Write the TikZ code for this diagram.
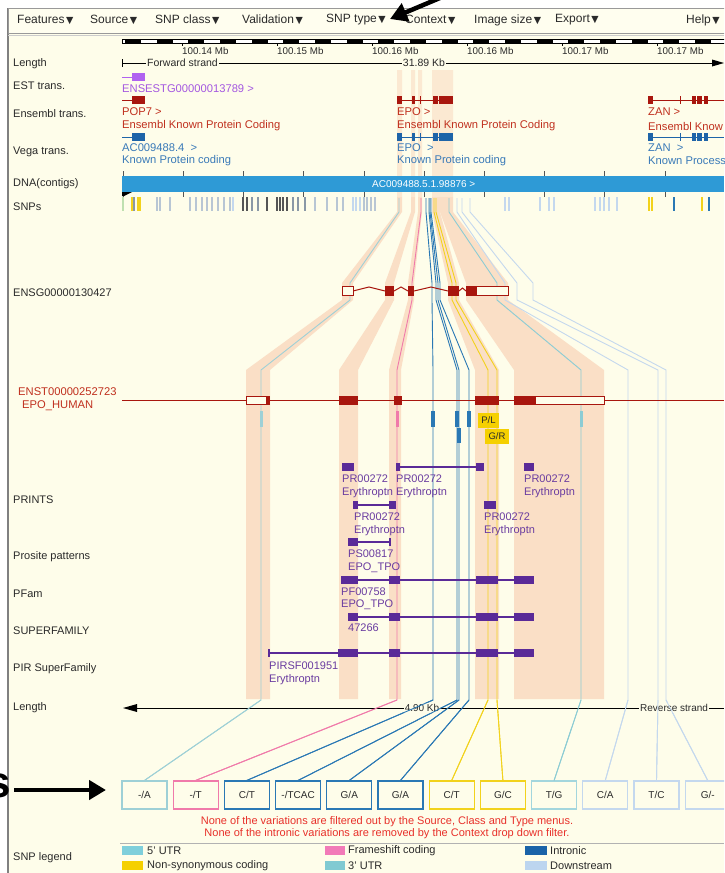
\documentclass[tikz,border=0pt]{standalone}
\usepackage{fontspec}
\setmainfont{Liberation Sans}
\newfontfamily\dvfont{DejaVu Sans}
\usetikzlibrary{arrows.meta}
\definecolor{bgc}{HTML}{FEFDEA}
\definecolor{menubg}{HTML}{FFFEEF}
\definecolor{bandc}{HTML}{FADFC6}
\definecolor{ensred}{HTML}{A8160E}
\definecolor{enstxt}{HTML}{C0301E}
\definecolor{estc}{HTML}{B062F0}
\definecolor{esttxt}{HTML}{A458E0}
\definecolor{vegac}{HTML}{1E64A8}
\definecolor{vegatxt}{HTML}{3A7AB8}
\definecolor{dnac}{HTML}{2E9AD6}
\definecolor{protc}{HTML}{5A2A98}
\definecolor{prottxt}{HTML}{6A3CA0}
\definecolor{labc}{HTML}{2A2A2A}
\definecolor{utrfive}{HTML}{9ED0D6}
\definecolor{fshift}{HTML}{F07AAA}
\definecolor{intr}{HTML}{2A78B4}
\definecolor{nsyn}{HTML}{F2D21C}
\definecolor{utrthree}{HTML}{8CCCD4}
\definecolor{dstream}{HTML}{C4D8EE}
\definecolor{notec}{HTML}{E8302A}
\definecolor{tgray}{HTML}{B8C6D4}
\definecolor{tdark}{HTML}{555555}
\definecolor{tmid}{HTML}{8A98A6}
\definecolor{tgreen}{HTML}{BFE0B0}
\definecolor{legfive}{HTML}{7FCFDB}
\definecolor{legfs}{HTML}{F27AB8}
\definecolor{legin}{HTML}{1A63A8}
\definecolor{legns}{HTML}{F5D000}
\definecolor{legthree}{HTML}{80CAD2}
\definecolor{legds}{HTML}{BCD5EF}
\newcommand{\mtri}{{\dvfont\fontsize{9.5}{9.5}\selectfont\,▼}}
\tikzset{
  lab/.style={anchor=west, inner sep=0pt, text=labc, font=\fontsize{11}{12}\selectfont},
  menu/.style={anchor=west, inner sep=0pt, text=labc, font=\fontsize{12}{13}\selectfont},
  trk/.style={anchor=west, inner sep=0pt, font=\fontsize{11.2}{12}\selectfont},
  prl/.style={anchor=west, inner sep=0pt, text=prottxt, font=\fontsize{11}{12}\selectfont},
  sclab/.style={anchor=west, inner sep=0pt, text=labc, font=\fontsize{9.8}{10}\selectfont},
  snpbox/.style={minimum width=45pt, minimum height=28pt, inner sep=0pt, fill=bgc, line width=1.2pt, text=labc, font=\fontsize{10}{11}\selectfont},
  snpl/.style={line width=0.9pt},
  pline/.style={draw=protc, line width=1.2pt},
  bigarrow/.style={line width=4.5pt, -{Triangle[length=17pt,width=19pt]}},
}
\begin{document}
\begin{tikzpicture}[x=1pt,y=-1pt]
\useasboundingbox (0,0) rectangle (724,873);
\clip (0,0) rectangle (724,873);
\fill[white] (0,0) rectangle (724,873);
\fill[bgc] (8,8) rectangle (724,873);
\draw[gray, line width=1.5pt] (8,8) -- (8,873);
% menu bar
\draw[gray!80, fill=menubg] (8,8) rectangle (740,33);
\draw[gray!40] (8,35) -- (724,35);
\node[menu] (m1) at (17,20) {Features\mtri};
\node[menu] (m2) at (90,20) {Source\mtri};
\node[menu] (m3) at (155,20) {SNP class\mtri};
\node[menu] (m4) at (242,20) {Validation\mtri};
\node[menu] (m5) at (326,20) {SNP type\mtri};
\node[menu] (m6) at (405,20) {Context\mtri};
\node[menu] (m7) at (474,20) {Image size\mtri};
\node[menu] (m8) at (555,20) {Export\mtri};
\node[menu] (m9) at (686,20) {Help\mtri};
% bands
\foreach \ta/\tb/\ea/\eb/\ra/\rb in {397/402/342/353/246/270, 411/415/385/394/339/358, 418/422/408/414/389/401, 432/440/448/459/475/499, 440/453/466/508/514/604}{
  \fill[bandc] (\ta,70) -- (\ta,212) -- (\ea,283) -- (\ea,300) -- (\ra,370) -- (\ra,699) -- (\rb,699) -- (\rb,370) -- (\eb,300) -- (\eb,283) -- (\tb,212) -- (\tb,70) -- cycle;
}
\fill[bgc, opacity=0.35] (100,68) rectangle (724,197);
% scale bar
\draw[black, fill=white, line width=0.8pt] (122,39.5) rectangle (730,43.5);
\foreach \k in {0,...,19}{ \fill[black] ({125+31.67*\k},39.5) rectangle ({141+31.67*\k},43.5); }
\foreach \x/\t in {182/100.14 Mb, 277/100.15 Mb, 372/100.16 Mb, 467/100.16 Mb, 562/100.17 Mb, 657/100.17 Mb}{
  \draw[black] (\x,43.5) -- (\x,46);
  \node[sclab] (s\x) at (\x,51) {\t};
}
% row labels
\node[lab] (l1) at (13,64) {Length};
\node[lab] (l2) at (13,86) {EST trans.};
\node[lab] (l3) at (13,114) {Ensembl trans.};
\node[lab] (l4) at (13,152) {Vega trans.};
\node[lab] (l5) at (13,184) {DNA(contigs)};
\node[lab] (l6) at (13,207) {SNPs};
\node[lab] (l7) at (13,293) {ENSG00000130427};
\node[lab] (l8) at (13,500) {PRINTS};
\node[lab] (l9) at (13,557) {Prosite patterns};
\node[lab] (l10) at (13,594) {PFam};
\node[lab] (l11) at (13,631) {SUPERFAMILY};
\node[lab] (l12) at (13,669) {PIR SuperFamily};
\node[lab] (l13) at (13,708) {Length};
\node[lab] (l14) at (13,858) {SNP legend};
% length top
\draw[black] (122,59) -- (122,67);
\draw[black] (122,63) -- (716,63);
\fill[black] (724,63) -- (712,59.5) -- (712,66.5) -- cycle;
\node[sclab, fill=bgc, inner sep=1pt, font=\fontsize{10.5}{11}\selectfont] (fw) at (146,63) {Forward strand};
\node[sclab, fill=bgc, inner sep=1pt, anchor=center, font=\fontsize{10.5}{11}\selectfont] (kb1) at (424,63) {31.89 Kb};
% EST
\draw[estc, line width=1pt] (122,77) -- (132,77);
\fill[estc] (132,73) rectangle (145,81);
\node[trk, text=esttxt] (est) at (122,89) {ENSESTG00000013789 >};
% Ensembl
\draw[ensred, line width=1pt] (122,100) -- (132,100);
\fill[ensred] (132,96) rectangle (145,104);
\draw[ensred, line width=1pt] (397,100) -- (453,100);
\foreach \a/\b in {397/402, 412/414.5, 419.5/421, 433/438, 439/453}{ \fill[ensred] (\a,96) rectangle (\b,104); }
\draw[ensred, line width=1pt] (648,100) -- (724,100);
\foreach \a/\b in {648/653, 679.5/681, 692/696, 697/702, 704/708}{ \fill[ensred] (\a,96) rectangle (\b,104); }
\node[trk, text=enstxt] (e1a) at (122,112) {POP7 >};
\node[trk, text=enstxt] (e1b) at (122,126) {Ensembl Known Protein Coding};
\node[trk, text=enstxt] (e2a) at (397,112) {EPO >};
\node[trk, text=enstxt] (e2b) at (397,126) {Ensembl Known Protein Coding};
\node[trk, text=enstxt] (e3a) at (648,112) {ZAN >};
\node[trk, text=enstxt] (e3b) at (648,126) {Ensembl Know};
% Vega
\draw[vegac, line width=1pt] (122,137) -- (132,137);
\fill[vegac] (132,133) rectangle (145,141);
\draw[vegac, line width=1pt] (397,137) -- (453,137);
\foreach \a/\b in {397/402, 412/414.5, 419.5/421, 433/438, 439/453}{ \fill[vegac] (\a,133) rectangle (\b,141); }
\draw[vegac, line width=1pt] (648,137) -- (724,137);
\foreach \a/\b in {648/653, 679.5/681, 692/696, 697/702, 704/708}{ \fill[vegac] (\a,133) rectangle (\b,141); }
\node[trk, text=vegatxt] (v1a) at (122,148) {AC009488.4~~>};
\node[trk, text=vegatxt] (v1b) at (122,161) {Known Protein coding};
\node[trk, text=vegatxt] (v2a) at (397,148) {EPO~~>};
\node[trk, text=vegatxt] (v2b) at (397,161) {Known Protein coding};
\node[trk, text=vegatxt] (v3a) at (648,148) {ZAN~~>};
\node[trk, text=vegatxt] (v3b) at (648,161) {Known Processe};
% DNA contig
\fill[dnac] (122,176) rectangle (724,192);
\foreach \k in {0,...,10}{
  \draw[tdark] ({123+60.2*\k},171) -- ({123+60.2*\k},176);
  \draw[tdark] ({123+60.2*\k},192) -- ({123+60.2*\k},197);
}
\fill[black] (122,192) -- (132,192) -- (124,196) -- (122,196) -- cycle;
\node[sclab, text=white, font=\fontsize{10}{11}\selectfont] (ctg) at (372,184) {AC009488.5.1.98876 >};
% SNP ticks
\foreach \x/\c in {123/tgreen, 132/nsyn, 134/tmid, 138/nsyn, 140/nsyn, 157/tgray, 160/tgray, 170/tgray, 190/tgray, 196/tgray, 202/tgray, 207/tgray, 212/tgray, 218/tgray, 224/tgray, 230/tgray, 233/dstream, 243/tdark, 247/tdark, 252/tmid, 258/tmid, 267/tdark, 277/tdark, 280/tdark, 283/tdark, 287/tdark, 293/tmid, 298/tmid, 305/tmid, 315/tgray, 327/tgray, 337/tgray, 343/tgray, 353/dstream, 356/dstream, 360/dstream, 364/tgray, 367/tgray, 371/tgray, 375/tgray, 505/dstream, 509/dstream, 540/dstream, 549/dstream, 554/dstream, 595/dstream, 600/dstream, 604/dstream, 609/dstream, 617/dstream, 649/nsyn, 652/nsyn, 674/intr, 702/nsyn, 709/intr}{
  \draw[\c, line width=1.2pt] (\x,197) -- (\x,211);
}
% SNP boxes
\node[snpbox, draw=utrfive] (b1) at (144.5,795) {-/A};
\node[snpbox, draw=fshift] (b2) at (195.7,795) {-/T};
\node[snpbox, draw=intr] (b3) at (246.9,795) {C/T};
\node[snpbox, draw=intr] (b4) at (298.1,795) {-/TCAC};
\node[snpbox, draw=intr] (b5) at (349.3,795) {G/A};
\node[snpbox, draw=intr] (b6) at (400.5,795) {G/A};
\node[snpbox, draw=nsyn] (b7) at (451.7,795) {C/T};
\node[snpbox, draw=nsyn] (b8) at (502.9,795) {G/C};
\node[snpbox, draw=utrthree!80] (b9) at (554.1,795) {T/G};
\node[snpbox, draw=dstream] (b10) at (605.3,795) {C/A};
\node[snpbox, draw=dstream] (b11) at (656.5,795) {T/C};
\node[snpbox, draw=dstream] (b12) at (707.7,795) {G/-};
% SNP lines
\foreach \t/\e/\r/\c/\b in {399/350/261/utrfive/b1, 421/412/397/fshift/b2, 426/432/433/intr/b3, 429/436/457/intr/b4, 430/438/459/intr/b5, 431/440/469/intr/b6, 434/452/488/nsyn/b7, 436/456/497/nsyn/b8, 449/497/581/utrthree/b9, 457/505/628/dstream/b10, 462/517/658/dstream/b11, 470/533/666/dstream/b12}{
  \draw[\c, snpl] (\t,198) -- (\t,212) -- (\e,283) -- (\e,300) -- (\r,370) -- (\r,700) -- (\b.north);
}
% ENSG gene
\draw[ensred, line width=1pt] (353,291) -- (369,287) -- (385,291) (394,291) -- (401,287) -- (408,291) (414,291) -- (431,287) -- (448,291) (459,291) -- (462.5,288) -- (466,291);
\draw[ensred, fill=bgc, line width=1pt] (342,286.5) rectangle (353,295.5);
\fill[ensred] (385,286) rectangle (394,296);
\fill[ensred] (408,286) rectangle (414,296);
\fill[ensred] (448,286) rectangle (459,296);
\draw[ensred, fill=bgc, line width=1pt] (476,286.5) rectangle (508,295.5);
\fill[ensred] (466,286) rectangle (476,296);
% transcript
\node[trk, text=enstxt] (tr1) at (18,392) {ENST00000252723};
\node[trk, text=enstxt] (tr2) at (22,406) {EPO\_HUMAN};
\draw[ensred, line width=1pt] (122,400) -- (724,400);
\draw[ensred, fill=bgc, line width=1pt] (246,396) rectangle (269,404.5);
\fill[ensred] (266,396) rectangle (270,405);
\fill[ensred] (339,396) rectangle (358,405);
\fill[ensred] (394,396) rectangle (402,405);
\fill[ensred] (475,396) rectangle (499,405);
\draw[ensred, fill=bgc, line width=1pt] (535,396) rectangle (604,404.5);
\fill[ensred] (514,396) rectangle (535,405);
% SNP markers
\fill[utrfive] (259.5,411) rectangle (262.5,427);
\fill[fshift] (395.5,411) rectangle (398.5,427);
\fill[intr] (431,411) rectangle (435,427);
\fill[intr] (455,411) rectangle (459,427);
\fill[intr] (467,411) rectangle (471,427);
\fill[intr] (457,428) rectangle (461,443);
\fill[utrthree] (579.5,411) rectangle (582.5,427);
\node[fill=legns, minimum width=21pt, minimum height=15pt, inner sep=0pt, text=labc, font=\fontsize{9.5}{10}\selectfont] (pl) at (488.5,420.5) {P/L};
\node[fill=legns, minimum width=24pt, minimum height=15pt, inner sep=0pt, text=labc, font=\fontsize{9.5}{10}\selectfont] (gr) at (497,436) {G/R};
% PRINTS
\fill[protc] (342,463) rectangle (354,471);
\fill[protc] (396,463) rectangle (400,471);
\draw[pline] (400,467) -- (476,467);
\fill[protc] (476,463) rectangle (484,471);
\fill[protc] (524,463) rectangle (534,471);
\node[prl] (p1a) at (342,479) {PR00272};
\node[prl] (p1b) at (342,493) {Erythroptn};
\node[prl] (p2a) at (396,479) {PR00272};
\node[prl] (p2b) at (396,493) {Erythroptn};
\node[prl] (p3a) at (524,479) {PR00272};
\node[prl] (p3b) at (524,493) {Erythroptn};
\fill[protc] (353,501) rectangle (358,509);
\draw[pline] (358,505) -- (389,505);
\fill[protc] (389,501) rectangle (396,509);
\node[prl] (p4a) at (354,517) {PR00272};
\node[prl] (p4b) at (354,531) {Erythroptn};
\fill[protc] (484,501) rectangle (496,509);
\node[prl] (p5a) at (484,517) {PR00272};
\node[prl] (p5b) at (484,531) {Erythroptn};
% Prosite
\fill[protc] (348,538) rectangle (358,546);
\draw[pline] (358,542) -- (390,542);
\draw[pline] (390,538) -- (390,546);
\node[prl] (ps1) at (348,554) {PS00817};
\node[prl] (ps2) at (348,568) {EPO\_TPO};
% PFam
\draw[pline] (358,580) -- (514,580);
\foreach \a/\b in {341/358, 389/400, 476/498, 514/534}{ \fill[protc] (\a,576) rectangle (\b,584); }
\node[prl] (pf1) at (341,592) {PF00758};
\node[prl] (pf2) at (341,605) {EPO\_TPO};
% SUPERFAMILY
\draw[pline] (358,617) -- (514,617);
\foreach \a/\b in {348/358, 389/400, 476/498, 514/534}{ \fill[protc] (\a,613) rectangle (\b,621); }
\node[prl] (sf1) at (348,628) {47266};
% PIR
\draw[pline] (269,653) -- (514,653);
\draw[pline] (269,649) -- (269,657);
\foreach \a/\b in {338/358, 389/400, 476/498, 514/534}{ \fill[protc] (\a,649) rectangle (\b,657); }
\node[prl] (pir1) at (269,666) {PIRSF001951};
\node[prl] (pir2) at (269,680) {Erythroptn};
% Length bottom
\draw[black] (130,708) -- (724,708);
\fill[black] (123,708) -- (137,704) -- (137,712) -- cycle;
\node[sclab, fill=bgc, inner sep=1pt, anchor=center, font=\fontsize{10}{11}\selectfont] (kb2) at (422,708) {4.90 Kb};
\node[sclab, fill=bgc, inner sep=1pt, font=\fontsize{10}{11}\selectfont] (rev) at (639,708) {Reverse strand};
% redraw SNP lines over bottom length text
\foreach \r/\c/\b in {261/utrfive/b1, 397/fshift/b2, 433/intr/b3, 457/intr/b4, 459/intr/b5, 469/intr/b6, 488/nsyn/b7, 497/nsyn/b8, 581/utrthree/b9, 628/dstream/b10, 658/dstream/b11, 666/dstream/b12}{
  \draw[\c, snpl] (\r,700) -- (\b.north);
}
% notes
\node[text=notec, inner sep=0pt, font=\fontsize{11}{12}\selectfont] (n1) at (387,822) {None of the variations are filtered out by the Source, Class and Type menus.};
\node[text=notec, inner sep=0pt, font=\fontsize{11}{12}\selectfont] (n2) at (387,834) {None of the intronic variations are removed by the Context drop down filter.};
% legend
\draw[gray!60] (120,843) -- (724,843);
\fill[legfive] (122,846) rectangle (143,855);
\node[lab] (lg1) at (147,850.5) {5' UTR};
\fill[legfs] (325,846) rectangle (345,855);
\node[lab] (lg2) at (348,850.5) {Frameshift coding};
\fill[legin] (525,846) rectangle (547,855);
\node[lab] (lg3) at (550,850.5) {Intronic};
\fill[legns] (122,861) rectangle (143,870);
\node[lab] (lg4) at (147,865.5) {Non-synonymous coding};
\fill[legthree] (325,861) rectangle (345,870);
\node[lab] (lg5) at (348,865.5) {3' UTR};
\fill[legds] (525,861) rectangle (547,870);
\node[lab] (lg6) at (550,865.5) {Downstream};
% annotation arrows
\coordinate (ta) at (447,-5);
\coordinate (tb) at (390,19);
\draw[bigarrow] (ta) -- (tb);
\node[anchor=east, inner sep=0pt, font=\bfseries\fontsize{44}{44}\selectfont] (bigs) at (11,786) {s};
\coordinate (ba) at (14,790);
\coordinate (bb) at (106,790);
\draw[bigarrow] (ba) -- (bb);
\end{tikzpicture}
\end{document}
